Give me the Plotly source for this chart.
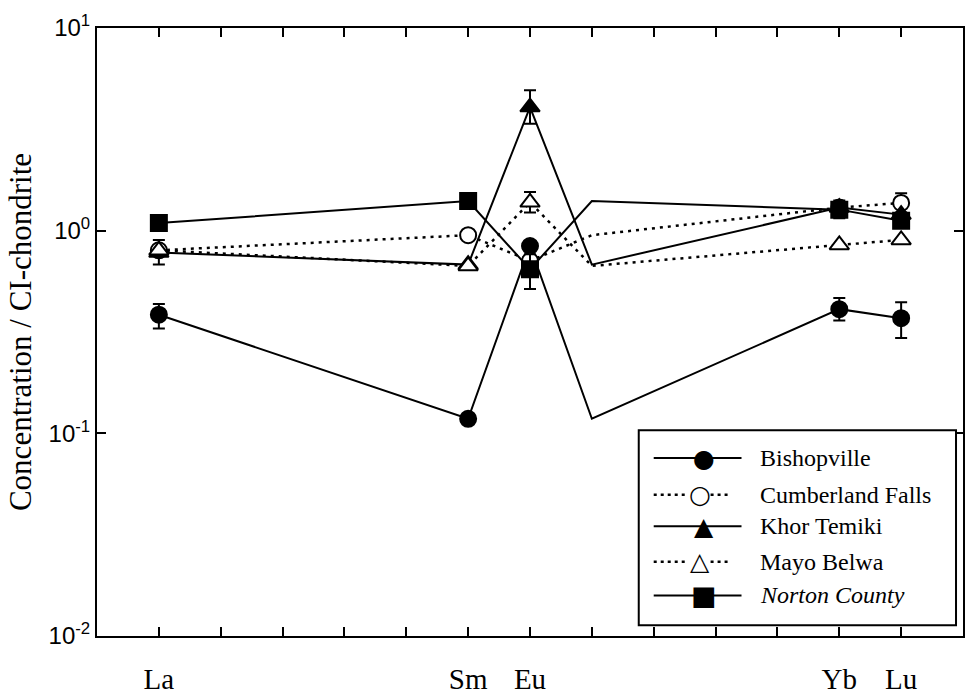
import plotly.graph_objects as go

# x positions (element index) and labels; the 4th point repeats the Sm value (artifact of original plot)
x_pos = [57, 62, 63, 64, 68, 69]
label_pos = [57, 62, 63, 68, 69]
labels = ["La", "Sm", "Eu", "Yb", "Lu"]

bishopville = [0.385, 0.118, 0.84, 0.118, 0.41, 0.37]
bishopville_err_up = [0.05, 0, 0, 0, 0.055, 0.073]
bishopville_err_dn = [0.056, 0, 0, 0, 0.05, 0.075]

cumberland = [0.80, 0.95, 0.71, 0.95, 1.30, 1.37]
cumberland_err_up = [0, 0, 0, 0, 0, 0.16]
cumberland_err_dn = [0, 0, 0, 0, 0, 0.14]

khor = [0.78, 0.68, 4.07, 0.68, 1.30, 1.20]
khor_err_up = [0, 0, 0.86, 0, 0, 0]
khor_err_dn = [0, 0, 0.7, 0, 0, 0]

mayo = [0.80, 0.67, 1.38, 0.67, 0.85, 0.90]
mayo_err_up = [0.10, 0, 0.17, 0, 0, 0]
mayo_err_dn = [0.12, 0, 0.15, 0, 0, 0]

norton = [1.09, 1.40, 0.645, 1.40, 1.27, 1.12]
norton_err_up = [0, 0, 0.12, 0, 0.14, 0]
norton_err_dn = [0, 0, 0.13, 0, 0.12, 0]

names = ["Bishopville", "Cumberland Falls", "Khor Temiki", "Mayo Belwa", "<i>Norton County</i>"]
values = [bishopville, cumberland, khor, mayo, norton]
errs_up = [bishopville_err_up, cumberland_err_up, khor_err_up, mayo_err_up, norton_err_up]
errs_dn = [bishopville_err_dn, cumberland_err_dn, khor_err_dn, mayo_err_dn, norton_err_dn]
symbols = ["circle", "circle", "triangle-up", "triangle-up", "square"]
fills = ["black", "white", "black", "white", "black"]
dashes = ["solid", "3px,5px", "solid", "3px,5px", "solid"]
glyphs = ["\u25CF", "\u25CB", "\u25B2", "\u25B3", "\u25A0"]
glyph_sizes = [25, 25, 25, 25, 27]

fig = go.Figure()
marker_idx = [0, 1, 2, 4, 5]
for name, vals, eu, ed, sym, fill, dash in zip(names, values, errs_up, errs_dn, symbols, fills, dashes):
    fig.add_trace(go.Scatter(
        x=x_pos, y=vals, mode="lines", name=name,
        line=dict(color="black", width=2 if dash == "solid" else 2.5, dash=dash),
        showlegend=False, hoverinfo="skip"))
    fig.add_trace(go.Scatter(
        x=[x_pos[i] for i in marker_idx], y=[vals[i] for i in marker_idx],
        mode="markers", name=name,
        marker=dict(symbol=sym, size=16 if sym != "triangle-up" else 17, color=fill,
                    line=dict(color="black", width=2)),
        error_y=dict(type="data", symmetric=False,
                     array=[eu[i] for i in marker_idx],
                     arrayminus=[ed[i] for i in marker_idx],
                     color="black", thickness=2, width=6),
        showlegend=False))

# ---- custom legend (paper coordinates) ----
L, W, T, H = 97, 868, 28, 615
def px(xp):
    return (xp - L) / W
def py(yp):
    return (T + H - yp) / H

shapes = [dict(type="rect", xref="paper", yref="paper",
               x0=px(640), x1=px(958), y0=py(632), y1=py(435),
               line=dict(color="black", width=2), fillcolor="white", layer="above")]
annotations = []
row_y = [463, 500, 532, 568, 602]
for i, (name, dash, glyph, gs) in enumerate(zip(names, dashes, glyphs, glyph_sizes)):
    yy = py(row_y[i])
    if dash == "solid":
        segs = [(655, 743)]
        mx = 705
    else:
        segs = [(655, 690), (712, 732)]
        mx = 701
    for a, b in segs:
        shapes.append(dict(type="line", xref="paper", yref="paper",
                           x0=px(a), x1=px(b), y0=yy, y1=yy, layer="above",
                           line=dict(color="black", width=2 if dash == "solid" else 2.5,
                                     dash="solid" if dash == "solid" else "3px,4px")))
    annotations.append(dict(xref="paper", yref="paper", x=px(mx), y=yy, text=glyph,
                            showarrow=False, xanchor="center", yanchor="middle",
                            font=dict(family="DejaVu Sans", size=gs, color="black")))
    annotations.append(dict(xref="paper", yref="paper", x=px(760), y=yy, text=name,
                            showarrow=False, xanchor="left", yanchor="middle",
                            font=dict(family="Liberation Serif", size=24, color="black")))

fig.update_layout(
    width=965, height=695,
    margin=dict(l=L, r=0, t=T, b=695 - T - H),
    paper_bgcolor="white", plot_bgcolor="white",
    showlegend=False,
    shapes=shapes, annotations=annotations,
    xaxis=dict(range=[56, 70], tickvals=label_pos, ticktext=labels,
               ticks="inside", ticklen=9, tickwidth=2, tickcolor="black",
               minor=dict(dtick=1, tick0=0, ticks="inside", ticklen=9, tickwidth=2, tickcolor="black"),
               showline=True, linecolor="black", linewidth=2, mirror="ticks",
               showgrid=False, zeroline=False, ticklabelstandoff=16,
               tickfont=dict(family="Liberation Serif", size=29, color="black")),
    yaxis=dict(type="log", range=[-2, 1],
               tickvals=[0.01, 0.1, 1, 10],
               ticktext=["10<sup>-2</sup>", "10<sup>-1</sup>", "10<sup>0</sup>", "10<sup>1</sup>"],
               ticks="inside", ticklen=9, tickwidth=2, tickcolor="black",
               showline=True, linecolor="black", linewidth=2, mirror="ticks",
               showgrid=False, zeroline=False,
               tickfont=dict(family="Liberation Sans", size=24, color="black"),
               title=dict(text="Concentration / CI-chondrite", standoff=8,
                          font=dict(family="Liberation Serif", size=31, color="black"))),
)

fig.write_html("out.html")
